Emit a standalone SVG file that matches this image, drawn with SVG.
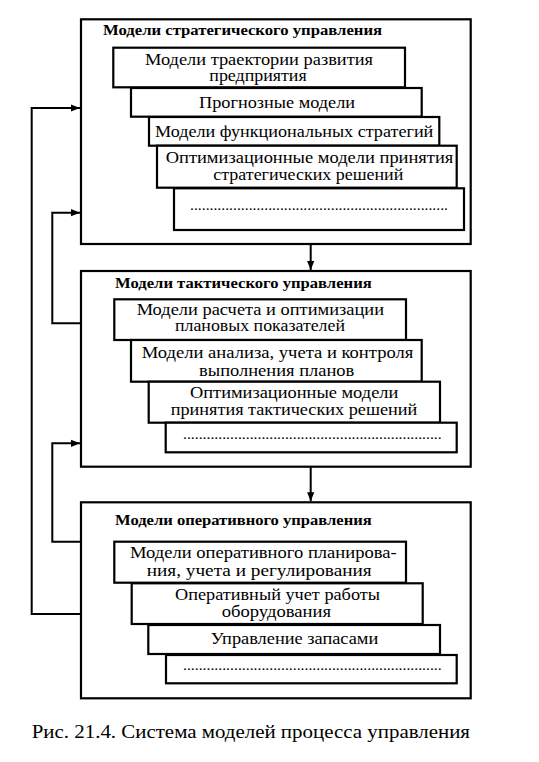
<svg xmlns="http://www.w3.org/2000/svg" width="539" height="762" viewBox="0 0 539 762">
<style>
.outer{fill:#fff;stroke:#000;stroke-width:2.2}
.inner{fill:#fff;stroke:#000;stroke-width:2.2}
.t{font-family:"Liberation Serif","Times New Roman",serif;font-size:16px;fill:#000}
.h{font-family:"Liberation Serif","Times New Roman",serif;font-size:14.5px;font-weight:bold;fill:#000}
.d{font-family:"Liberation Serif","Times New Roman",serif;font-size:14px;fill:#000}
.cap{font-family:"Liberation Serif","Times New Roman",serif;font-size:19px;fill:#000}
.c{fill:none;stroke:#000;stroke-width:2}
</style>
<defs>
<marker id="ah" viewBox="0 0 10 10" refX="10" refY="5" markerWidth="4.5" markerHeight="4.5" orient="auto" markerUnits="strokeWidth">
<path d="M0,1 L10,5 L0,9 Z" fill="#000"/>
</marker>
</defs>
<rect width="539" height="762" fill="#fff"/>

<g id="connectors">
<path class="c" d="M81,614 H31.7 V108 H80" marker-end="url(#ah)"/>
<path class="c" d="M81,323.3 H52.3 V212.7 H80" marker-end="url(#ah)"/>
<path class="c" d="M81,541.7 H52.3 V443.3 H80" marker-end="url(#ah)"/>
<path class="c" d="M310.7,244 V270" marker-end="url(#ah)"/>
<path class="c" d="M310.7,466.7 V501.3" marker-end="url(#ah)"/>
</g>

<g id="strategic">
<rect class="outer" x="81" y="19.3" width="389.7" height="224.7"/>
<text class="h" x="103" y="35" textLength="279" lengthAdjust="spacingAndGlyphs">Модели стратегического управления</text>
<g id="s1"><rect class="inner" x="113.3" y="47.7" width="291.7" height="39.6"/>
<text class="t" x="145" y="64.5" textLength="228" lengthAdjust="spacingAndGlyphs">Модели траектории развития</text>
<text class="t" x="209.3" y="80.5" textLength="97.4" lengthAdjust="spacingAndGlyphs">предприятия</text></g>
<g id="s2"><rect class="inner" x="131" y="88" width="290.7" height="28.7"/>
<text class="t" x="199" y="108" textLength="156" lengthAdjust="spacingAndGlyphs">Прогнозные модели</text></g>
<g id="s3"><rect class="inner" x="149" y="117" width="290.3" height="28.7"/>
<text class="t" x="155" y="137" textLength="278.3" lengthAdjust="spacingAndGlyphs">Модели функциональных стратегий</text></g>
<g id="s4"><rect class="inner" x="157" y="145.7" width="299.7" height="42"/>
<text class="t" x="165.7" y="163.3" textLength="287.6" lengthAdjust="spacingAndGlyphs">Оптимизационные модели принятия</text>
<text class="t" x="213.3" y="180" textLength="190" lengthAdjust="spacingAndGlyphs">стратегических решений</text></g>
<g id="s5"><rect class="inner" x="174" y="188.3" width="290" height="41.7"/>
<text class="d" x="190" y="210" textLength="258" lengthAdjust="spacingAndGlyphs">..................................................................</text></g>
</g>

<g id="tactical">
<rect class="outer" x="81" y="271" width="389.7" height="195.7"/>
<text class="h" x="115" y="288.3" textLength="256.7" lengthAdjust="spacingAndGlyphs">Модели тактического управления</text>
<g id="t1"><rect class="inner" x="114.3" y="299.3" width="291.7" height="40.7"/>
<text class="t" x="136.7" y="314.5" textLength="247.3" lengthAdjust="spacingAndGlyphs">Модели расчета и оптимизации</text>
<text class="t" x="175" y="331" textLength="170" lengthAdjust="spacingAndGlyphs">плановых показателей</text></g>
<g id="t2"><rect class="inner" x="131" y="340" width="290.7" height="41.7"/>
<text class="t" x="141.7" y="358.3" textLength="271.6" lengthAdjust="spacingAndGlyphs">Модели анализа, учета и контроля</text>
<text class="t" x="199" y="375.5" textLength="155.3" lengthAdjust="spacingAndGlyphs">выполнения планов</text></g>
<g id="t3"><rect class="inner" x="148.7" y="381.7" width="291.3" height="41"/>
<text class="t" x="190" y="398.3" textLength="208.3" lengthAdjust="spacingAndGlyphs">Оптимизационные модели</text>
<text class="t" x="170.7" y="415" textLength="246.6" lengthAdjust="spacingAndGlyphs">принятия тактических решений</text></g>
<g id="t4"><rect class="inner" x="165.7" y="422.7" width="291" height="29.6"/>
<text class="d" x="183" y="439.3" textLength="258.7" lengthAdjust="spacingAndGlyphs">..................................................................</text></g>
</g>

<g id="operative">
<rect class="outer" x="81" y="502.3" width="389.7" height="196"/>
<text class="h" x="115" y="525" textLength="256.7" lengthAdjust="spacingAndGlyphs">Модели оперативного управления</text>
<g id="o1"><rect class="inner" x="114.3" y="541.7" width="291.7" height="41"/>
<text class="t" x="130" y="558.3" textLength="266.7" lengthAdjust="spacingAndGlyphs">Модели оперативного планирова-</text>
<text class="t" x="146.7" y="576" textLength="225" lengthAdjust="spacingAndGlyphs">ния, учета и регулирования</text></g>
<g id="o2"><rect class="inner" x="131.7" y="583.3" width="291" height="40.7"/>
<text class="t" x="175" y="600" textLength="205" lengthAdjust="spacingAndGlyphs">Оперативный учет работы</text>
<text class="t" x="221.7" y="616.7" textLength="109.3" lengthAdjust="spacingAndGlyphs">оборудования</text></g>
<g id="o3"><rect class="inner" x="148.3" y="625" width="291.7" height="29"/>
<text class="t" x="210.7" y="644" textLength="167.6" lengthAdjust="spacingAndGlyphs">Управление запасами</text></g>
<g id="o4"><rect class="inner" x="166" y="655" width="290.7" height="28.3"/>
<text class="d" x="183" y="670.3" textLength="258.7" lengthAdjust="spacingAndGlyphs">..................................................................</text></g>
</g>

<text id="caption" class="cap" x="31.7" y="738.3" textLength="438.3" lengthAdjust="spacingAndGlyphs">Рис. 21.4. Система моделей процесса управления</text>
</svg>
